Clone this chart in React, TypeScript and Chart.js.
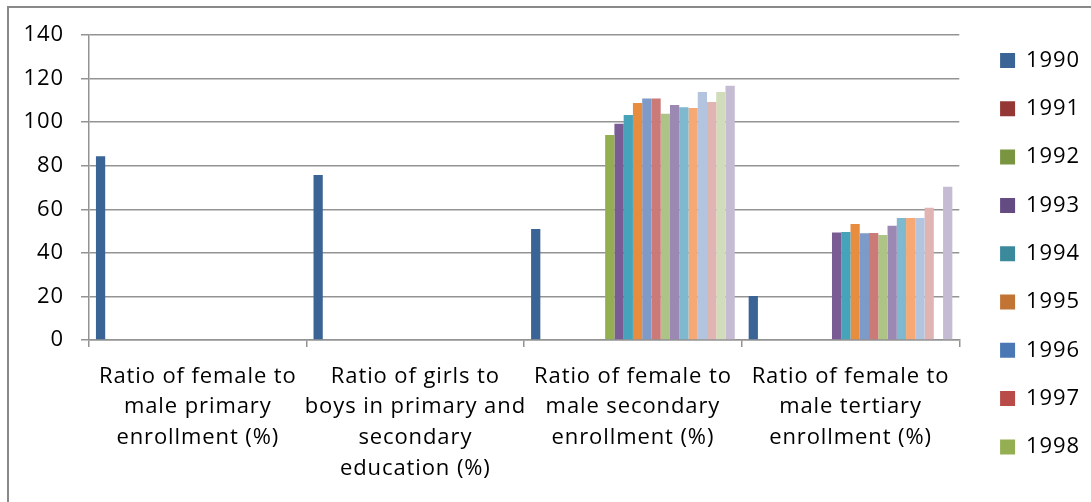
import React, { useEffect, useRef } from 'react';
import { Chart, registerables } from 'chart.js';

Chart.register(...registerables);

const categories: string[][] = [
  ['Ratio of female to', 'male primary', 'enrollment (%)'],
  ['Ratio of girls to', 'boys in primary and', 'secondary', 'education (%)'],
  ['Ratio of female to', 'male secondary', 'enrollment (%)'],
  ['Ratio of female to', 'male tertiary', 'enrollment (%)'],
];

const years = [
  '1990', '1991', '1992', '1993', '1994', '1995', '1996', '1997', '1998', '1999', '2000',
  '2001', '2002', '2003', '2004', '2005', '2006', '2007', '2008', '2009', '2010', '2011',
];

// values per year (1990..2011) for each indicator
const primaryEnrollment = [
  84.4, null, null, null, null, null, null, null, null, null, null,
  null, null, null, null, null, null, null, null, null, null, null,
];
const primarySecondaryEducation = [
  75.7, null, null, null, null, null, null, null, null, null, null,
  null, null, null, null, null, null, null, null, null, null, null,
];
const secondaryEnrollment = [
  50.9, null, null, null, null, null, null, null, 94.1, 99.3, 103.3,
  108.8, 110.8, 110.9, 103.9, 107.9, 106.8, 106.5, 113.8, 109.2, 113.8, 116.7,
];
const tertiaryEnrollment = [
  20.2, null, null, null, null, null, null, null, null, 49.3, 49.6,
  53.2, 49.0, 49.1, 48.2, 52.5, 56.0, 56.0, 56.0, 60.7, null, 70.4,
];

const yearColors = [
  '#3B6496', '#953735', '#7A9540', '#644C82', '#3A8A9C', '#C27434', '#4A78B4', '#B84A48',
  '#94AF52', '#7A5C94', '#46A3BA', '#E88D3E', '#7E9AC8', '#CC7A78', '#ADC486', '#9B89B4',
  '#7EB9CF', '#F6A974', '#B3C4DF', '#E1B4B4', '#D1DDBA', '#C5BBD3',
];

const yTicks = [0, 20, 40, 60, 80, 100, 120, 140];

const FONT = '"Open Sans", Lato, "DejaVu Sans", sans-serif';
const GRID = '#939393';
const GRID_W = 1.5;
const LETTER_SPACING = '0.9px';

const spacingPlugin = {
  id: 'letterSpacing',
  beforeUpdate(chart: any) {
    chart.ctx.letterSpacing = LETTER_SPACING;
  },
  beforeLayout(chart: any) {
    chart.ctx.letterSpacing = LETTER_SPACING;
  },
  beforeDraw(chart: any) {
    chart.ctx.letterSpacing = LETTER_SPACING;
  },
};

export default function App() {
  const canvasRef = useRef<HTMLCanvasElement | null>(null);

  useEffect(() => {
    const canvas = canvasRef.current;
    if (!canvas) return;
    const datasets = years.map((y, i) => ({
      label: y,
      data: [primaryEnrollment[i], primarySecondaryEducation[i], secondaryEnrollment[i], tertiaryEnrollment[i]],
      backgroundColor: yearColors[i],
      borderWidth: 0,
      barPercentage: 1,
      categoryPercentage: 22 / 23.5,
    }));
    const chart = new Chart(canvas, {
      type: 'bar',
      data: { labels: categories, datasets },
      plugins: [spacingPlugin],
      options: {
        animation: false,
        responsive: false,
        devicePixelRatio: 1,
        layout: { padding: { top: 5.4, right: 1, bottom: 0, left: 0 } },
        plugins: {
          title: {
            display: true,
            text: '',
            padding: { top: 28.6, bottom: 0 },
            font: { size: 1, lineHeight: 1 },
          },
          tooltip: { enabled: false },
          legend: {
            position: 'right',
            labels: {
              font: { family: FONT, size: 22 },
              color: '#000',
              boxWidth: 15,
              boxHeight: 15,
              padding: 26.3,
              filter: (item: any) => item.datasetIndex < 9,
            },
          },
        },
        scales: {
          x: {
            offset: true,
            grid: {
              offset: true,
              drawOnChartArea: false,
              drawTicks: true,
              tickLength: 7,
              color: GRID,
              lineWidth: GRID_W,
            },
            border: { display: true, color: GRID, width: GRID_W },
            ticks: {
              autoSkip: false,
              maxRotation: 0,
              minRotation: 0,
              padding: 14,
              color: '#000',
              font: { family: FONT, size: 22, lineHeight: 30.8 / 22 },
            },
            afterFit: (s: any) => {
              s.height = 162;
            },
          },
          y: {
            min: 0,
            max: 140,
            afterBuildTicks: (s: any) => {
              s.ticks = yTicks.map((v) => ({ value: v }));
            },
            grid: { color: GRID, lineWidth: GRID_W, tickLength: 8, drawTicks: true },
            border: { display: true, color: GRID, width: GRID_W },
            ticks: {
              padding: 17,
              color: '#000',
              font: { family: FONT, size: 22 },
            },
            afterFit: (s: any) => {
              s.width = 89;
            },
          },
          ySpacer: {
            type: 'linear',
            position: 'right',
            display: true,
            grid: { display: false, drawTicks: false },
            border: { display: false },
            ticks: { display: false },
            afterFit: (s: any) => {
              s.width = 14.5;
            },
          },
        },
      } as any,
    });
    return () => chart.destroy();
  }, []);

  return (
    <div
      style={{
        position: 'fixed',
        left: 0,
        top: 0,
        width: 1091,
        height: 502,
        overflow: 'hidden',
        background: '#fff',
      }}
    >
      <div
        style={{
          position: 'absolute',
          left: 7,
          top: 6,
          width: 1200,
          height: 600,
          border: '2px solid #898989',
          boxSizing: 'border-box',
        }}
      />
      <canvas
        ref={canvasRef}
        width={1091}
        height={502}
        style={{ position: 'absolute', left: 0, top: 0, display: 'block' }}
      />
    </div>
  );
}
